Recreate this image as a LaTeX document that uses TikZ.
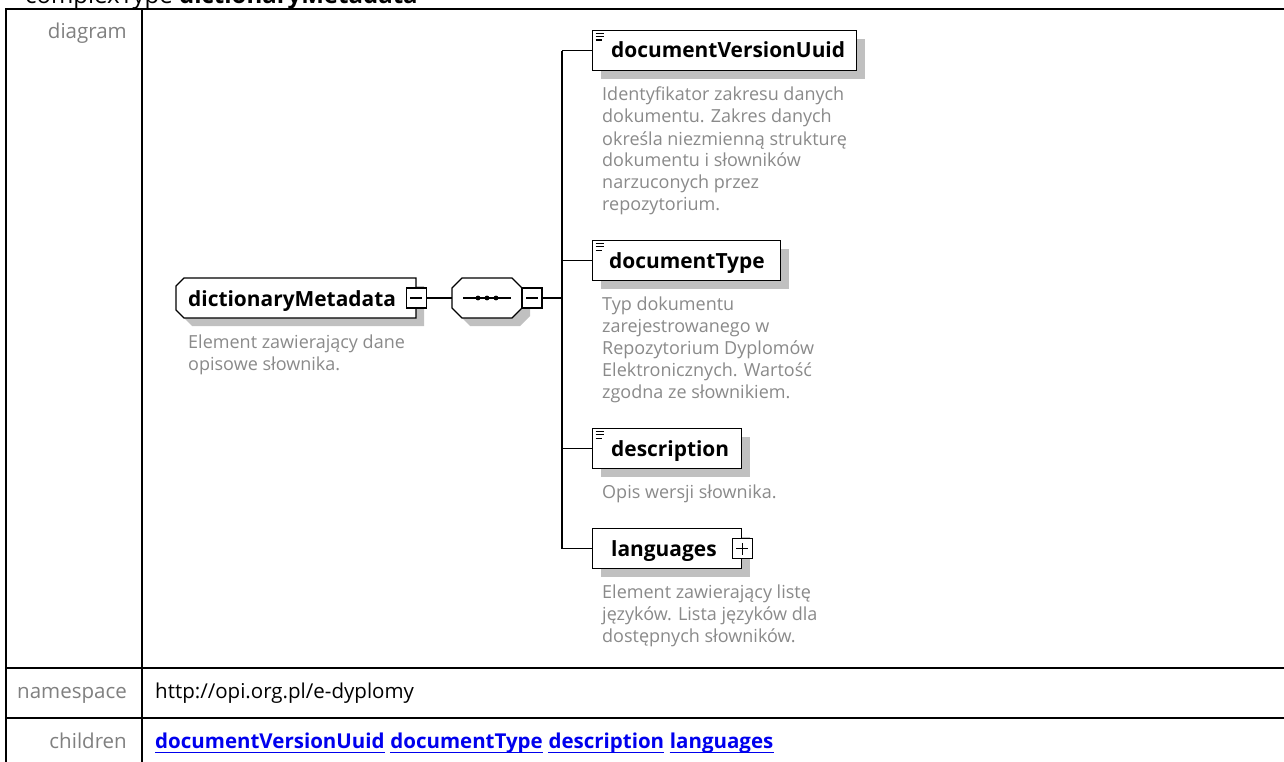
\documentclass[tikz,border=0pt]{standalone}
\usepackage{fontspec}
\setmainfont{Open Sans}
\usetikzlibrary{shadows}
\definecolor{shadowc}{RGB}{192,192,192}
\definecolor{labgray}{RGB}{128,128,128}
\definecolor{descgray}{RGB}{138,138,138}
\definecolor{linkblue}{RGB}{0,0,238}
\begin{document}
\begin{tikzpicture}[x=1pt,y=-1pt,
  tline/.style={line width=2pt,black},
  conn/.style={line width=1.3pt,black},
  boxline/.style={draw=black,line width=1.3pt,fill=white},
  elembox/.style={boxline,rectangle,inner sep=0pt,anchor=north west,
    drop shadow={shadow xshift=8pt,shadow yshift=-8pt,fill=shadowc,opacity=1}},
  ghost/.style={rectangle,inner sep=0pt,draw=none},
  pmbox/.style={boxline,rectangle,inner sep=0pt,minimum width=20pt,minimum height=20pt},
  iconline/.style={line width=1.2pt,black},
  lab/.style={font=\fontsize{20.5}{24}\selectfont,text=labgray,inner sep=0pt,anchor=base east},
  val/.style={font=\fontsize{20.5}{24}\selectfont,text=black,inner sep=0pt,anchor=base west},
  link/.style={font=\fontsize{20.5}{24}\selectfont\bfseries,text=linkblue,inner sep=0pt,anchor=base west},
  ename/.style={font=\fontsize{20.9}{24}\selectfont\bfseries,text=black,inner sep=0pt,anchor=base west},
  desc/.style={font=\fontsize{18}{22}\selectfont,text=descgray,inner sep=0pt,anchor=north west,align=left},
  titlet/.style={font=\fontsize{24}{28}\selectfont,text=black,inner sep=0pt,anchor=base west}
]
\useasboundingbox (0,0) rectangle (1284,762);
\clip (0,0) rectangle (1284,762);
\fill[white] (0,0) rectangle (1284,762);

% title (cut off at the top)
\node[titlet] (title) at (25,4) {complexType \textbf{dictionaryMetadata}};

% table
\draw[tline] (5,9) -- (1284,9);
\draw[tline] (5,668) -- (1284,668);
\draw[tline] (5,718) -- (1284,718);
\draw[tline] (6,9) -- (6,762);
\draw[tline] (142,9) -- (142,762);

\node[lab] (ldiag) at (127,39) {diagram};
\node[lab] (lns) at (127,698.5) {namespace};
\node[lab] (lch) at (127,748.5) {children};
\node[val] (ns) at (155,698.5) {http://opi.org.pl/e-dyplomy};

\node[link] (c1) at (155,748.5) {documentVersionUuid};
\node[link] (c2) at ([xshift=5.3pt]c1.base east) {documentType};
\node[link] (c3) at ([xshift=5.3pt]c2.base east) {description};
\node[link] (c4) at ([xshift=5.3pt]c3.base east) {languages};
\foreach \c in {c1,c2,c3,c4}
  \draw[linkblue,line width=1.3pt] ([yshift=-4pt]\c.base west) -- ([yshift=-4pt]\c.base east);

% ---- diagram ----
% dictionaryMetadata (chamfered on the left)
\fill[shadowc] (192,286) -- (424,286) -- (424,326) -- (192,326) -- (184,318) -- (184,294) -- cycle;
\filldraw[boxline] (184,278) -- (416,278) -- (416,318) -- (184,318) -- (176,310) -- (176,286) -- cycle;
\node[ghost,minimum width=240pt,minimum height=40pt] (dm) at (296,298) {};
\node[ename] (dmt) at (188,306) {dictionaryMetadata};
\node[pmbox] (dmtog) at (dm.east) {};
\draw[conn] ([xshift=-6pt]dmtog.center) -- ([xshift=6pt]dmtog.center);
\node[desc] (dmd) at (188,332.8) {\rule{0pt}{15pt}Element zawierający dane\\opisowe słownika.};

% sequence compositor
\fill[shadowc] (470,286) -- (520,286) -- (530,296) -- (530,316) -- (520,326) -- (470,326) -- (460,316) -- (460,296) -- cycle;
\filldraw[boxline] (462,278) -- (512,278) -- (522,288) -- (522,308) -- (512,318) -- (462,318) -- (452,308) -- (452,288) -- cycle;
\node[ghost,minimum width=70pt,minimum height=40pt] (seq) at (487,298) {};
\draw[conn] ([xshift=-24pt]seq.center) -- ([xshift=24pt]seq.center);
\foreach \dx in {-9,0,9}
  \fill[black] ([xshift=\dx pt]seq.center) circle (2.4pt);
\node[pmbox] (seqtog) at (532,298) {};
\draw[conn] ([xshift=-6pt]seqtog.center) -- ([xshift=6pt]seqtog.center);
\coordinate (bus) at (562,298);

\draw[conn] (dmtog.east) -- (seq.west);
\draw[conn] (seqtog.east) -- (bus);

% children
\node[elembox,minimum width=264pt,minimum height=40pt] (dvu) at (592,30) {};
\node[elembox,minimum width=188pt,minimum height=40pt] (dt) at (592,240) {};
\node[elembox,minimum width=149pt,minimum height=40pt] (de) at (592,428) {};
\node[elembox,minimum width=149pt,minimum height=40pt] (la) at (592,528) {};

\draw[conn] (dvu.west -| bus) -- (la.west -| bus);
\foreach \n in {dvu,dt,de,la}
  \draw[conn] (\n.west -| bus) -- (\n.west);

\foreach \n in {dvu,dt,de}{
  \draw[iconline] ([shift={(3.5,3.5)}]\n.north west) -- ++(8,0);
  \draw[iconline] ([shift={(3.5,6.8)}]\n.north west) -- ++(8,0);
  \draw[iconline] ([shift={(3.5,10.1)}]\n.north west) -- ++(6.5,0);
}

\node[ename] (dvut) at (611,58) {documentVersionUuid};
\node[ename] (dtt) at (609,268) {documentType};
\node[ename] (det) at (611,456) {description};
\node[ename] (lat) at (611,556) {languages};
\node[pmbox] (latog) at (la.east) {};
\draw[conn] ([xshift=-6pt]latog.center) -- ([xshift=6pt]latog.center);
\draw[conn] ([yshift=-6pt]latog.center) -- ([yshift=6pt]latog.center);

\node[desc] (dvud) at (602,85.8) {\rule{0pt}{15pt}Identyfikator zakresu danych\\dokumentu. Zakres danych\\określa niezmienną strukturę\\dokumentu i słowników\\narzuconych przez\\repozytorium.};
\node[desc] (dtd) at (602,294.8) {\rule{0pt}{15pt}Typ dokumentu\\zarejestrowanego w\\Repozytorium Dyplomów\\Elektronicznych. Wartość\\zgodna ze słownikiem.};
\node[desc] (ded) at (602,482.8) {\rule{0pt}{15pt}Opis wersji słownika.};
\node[desc] (lad) at (602,582.8) {\rule{0pt}{15pt}Element zawierający listę\\języków. Lista języków dla\\dostępnych słowników.};
\end{tikzpicture}
\end{document}
